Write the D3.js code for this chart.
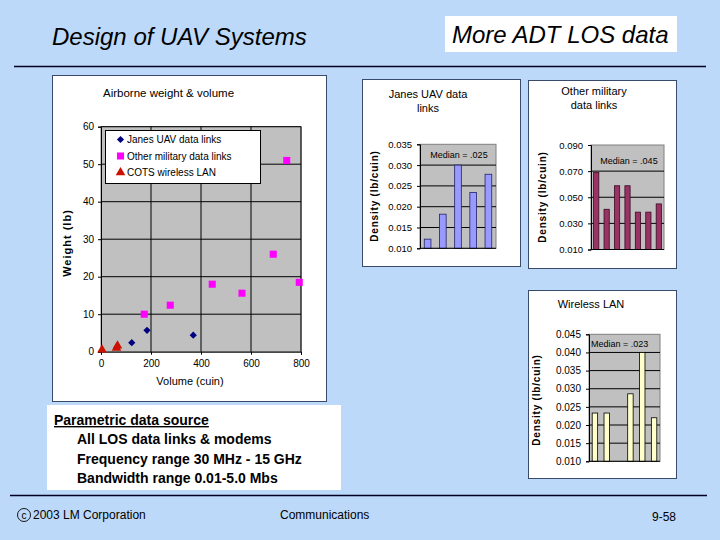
<!DOCTYPE html>
<html><head><meta charset="utf-8">
<script src="https://cdn.jsdelivr.net/npm/d3@7"></script>
<style>
html,body{margin:0;padding:0;background:#bdd9f9;}
svg{display:block;font-family:"Liberation Sans",Arial,sans-serif;}
</style></head>
<body>
<svg id="c" width="720" height="540"></svg>
<script>
// ---------- data ----------
const slideTitle = "Design of UAV Systems";
const slideSubtitle = "More ADT LOS data";
const scatterTitle = "Airborne weight & volume";
const volumeTicks = [0, 200, 400, 600, 800];
const weightTicks = [0, 10, 20, 30, 40, 50, 60];
const janesVolume = [123, 184, 369];
const janesWeight = [2.4, 5.7, 4.4];
const otherVolume = [173, 277, 445, 564, 689, 743, 793];
const otherWeight = [10, 12.4, 18, 15.6, 26, 51, 18.5];
const cotsVolume = [4, 62, 66];
const cotsWeight = [0.5, 1.0, 1.6];
const legendNames = ["Janes UAV data links", "Other military data links", "COTS wireless LAN"];

const janesDensity = [0.0122, 0.0182, 0.030, 0.0234, 0.0278];
const janesTicks = [0.010, 0.015, 0.020, 0.025, 0.030, 0.035];
const otherDensity = [0.0689, 0.0408, 0.0588, 0.0588, 0.0386, 0.0386, 0.0449];
const otherTicks = [0.010, 0.030, 0.050, 0.070, 0.090];
const wlanDensity = [0.0233, 0.0233, null, 0.0286, 0.040, 0.022];
const wlanTicks = [0.010, 0.015, 0.020, 0.025, 0.030, 0.035, 0.040, 0.045];

const sourceLines = ["All LOS data links & modems", "Frequency range 30 MHz - 15 GHz", "Bandwidth range 0.01-5.0 Mbs"];

const svg = d3.select("#c");

// ---------- slide chrome ----------
svg.append("rect").attr("width",720).attr("height",540).attr("fill","#bdd9f9");
svg.append("text").attr("x",52).attr("y",45).attr("font-size",24).attr("font-style","italic")
  .attr("fill","#000").text(slideTitle);
svg.append("rect").attr("x",445).attr("y",16).attr("width",232).attr("height",36).attr("fill","#fff");
svg.append("text").attr("x",452).attr("y",43).attr("font-size",24).attr("font-style","italic")
  .attr("fill","#000").text(slideSubtitle);
svg.append("line").attr("x1",14).attr("x2",706).attr("y1",66.5).attr("y2",66.5).attr("stroke","#000022").attr("stroke-width",1.5);
svg.append("line").attr("x1",10).attr("x2",707).attr("y1",495.5).attr("y2",495.5).attr("stroke","#000022").attr("stroke-width",1.5);

// footer
svg.append("circle").attr("cx",24).attr("cy",515).attr("r",6.5).attr("fill","none").attr("stroke","#000").attr("stroke-width",0.9);
svg.append("text").attr("x",24).attr("y",518.5).attr("text-anchor","middle").attr("font-size",10).text("c");
svg.append("text").attr("x",33).attr("y",519).attr("font-size",12).text("2003 LM Corporation");
svg.append("text").attr("x",280).attr("y",519).attr("font-size",12).text("Communications");
svg.append("text").attr("x",652).attr("y",521).attr("font-size",12).text("9-58");

// ---------- scatter panel ----------
svg.append("rect").attr("x",52.5).attr("y",75.5).attr("width",274).attr("height",326)
  .attr("fill","#fff").attr("stroke","#3a4a6a").attr("stroke-width",1);

const sx = d3.scaleLinear().domain([0,800]).range([101,301]);
const sy = d3.scaleLinear().domain([0,60]).range([351.7,126.7]);
const sg = svg.append("g");
sg.append("rect").attr("x",sx(0)).attr("y",sy(60)).attr("width",sx(800)-sx(0)).attr("height",sy(0)-sy(60))
  .attr("fill","#c0c0c0").attr("stroke","#808080");
sg.selectAll("line.hg").data(weightTicks.filter(d=>d>0)).join("line")
  .attr("x1",sx(0)).attr("x2",sx(800)).attr("y1",d=>sy(d)).attr("y2",d=>sy(d)).attr("stroke","#000").attr("stroke-width",1);
sg.selectAll("line.vg").data(volumeTicks.filter(d=>d>0)).join("line")
  .attr("y1",sy(0)).attr("y2",sy(60)).attr("x1",d=>sx(d)).attr("x2",d=>sx(d)).attr("stroke","#000").attr("stroke-width",1);

const yAx = sg.append("g").attr("transform",`translate(${sx(0)},0)`)
  .call(d3.axisLeft(sy).tickValues(weightTicks).tickSize(3).tickPadding(4).tickFormat(d3.format("d")));
const xAx = sg.append("g").attr("transform",`translate(0,${sy(0)})`)
  .call(d3.axisBottom(sx).tickValues(volumeTicks).tickSize(3).tickPadding(5).tickFormat(d3.format("d")));
[yAx,xAx].forEach(a=>{a.select(".domain").attr("stroke","#000");a.selectAll("line").attr("stroke","#000");
  a.selectAll("text").attr("font-size",10).attr("font-family","Liberation Sans, Arial, sans-serif").attr("fill","#000");});

sg.append("text").attr("x",103).attr("y",97).attr("font-size",11.5).text(scatterTitle);
sg.append("text").attr("x",190).attr("y",385).attr("text-anchor","middle").attr("font-size",11).text("Volume (cuin)");
sg.append("text").attr("transform","translate(71,243) rotate(-90)").attr("text-anchor","middle")
  .attr("font-size",11).attr("font-weight","bold").attr("letter-spacing",1).text("Weight (lb)");

const diamond = d3.symbol().type(d3.symbolSquare).size(26);
const square = d3.symbol().type(d3.symbolSquare).size(50);
const tri = d3.symbol().type(d3.symbolTriangle).size(40);

sg.selectAll("path.oth").data(otherVolume.map((v,i)=>[v,otherWeight[i]])).join("path")
  .attr("d",square).attr("transform",d=>`translate(${sx(d[0])},${sy(d[1])})`).attr("fill","#ff00ff");
sg.selectAll("path.jan").data(janesVolume.map((v,i)=>[v,janesWeight[i]])).join("path")
  .attr("d",diamond).attr("transform",d=>`translate(${sx(d[0])},${sy(d[1])}) rotate(45)`).attr("fill","#000080");
sg.selectAll("path.cot").data(cotsVolume.map((v,i)=>[v,cotsWeight[i]])).join("path")
  .attr("d",tri).attr("transform",d=>`translate(${sx(d[0])},${sy(d[1])})`).attr("fill","#cc1100");

// legend
const lg = sg.append("g");
lg.append("rect").attr("x",105.5).attr("y",130.5).attr("width",155).attr("height",53).attr("fill","#fff").attr("stroke","#000");
const legSyms = [[diamond,"#000080",45],[square,"#ff00ff",0],[tri,"#cc1100",0]];
legendNames.forEach((n,i)=>{
  const yy = 139.5 + i*16.5;
  lg.append("path").attr("d",legSyms[i][0]).attr("transform",`translate(120.5,${yy}) rotate(${legSyms[i][2]})`).attr("fill",legSyms[i][1]);
  lg.append("text").attr("x",127).attr("y",yy+3.5).attr("font-size",10).text(n);
});

// ---------- bar chart helper ----------
function barChart(o){
  const g = svg.append("g");
  g.append("rect").attr("x",o.px).attr("y",o.py).attr("width",o.pw).attr("height",o.ph)
    .attr("fill","#fff").attr("stroke","#3a4a6a").attr("stroke-width",1);
  const x = d3.scaleBand().domain(o.values.map((d,i)=>i)).range([o.x0,o.x1])
    .paddingInner(o.pad).paddingOuter(o.pad/2);
  const y = d3.scaleLinear().domain([o.ticks[0], o.ticks[o.ticks.length-1]]).range([o.y0,o.y1]);
  g.append("rect").attr("x",o.x0).attr("y",o.y1).attr("width",o.x1-o.x0).attr("height",o.y0-o.y1)
    .attr("fill","#c0c0c0").attr("stroke","#808080");
  g.selectAll("line.grid").data(o.ticks.slice(1,-1)).join("line")
    .attr("x1",o.x0).attr("x2",o.x1).attr("y1",d=>y(d)).attr("y2",d=>y(d)).attr("stroke","#000");
  g.selectAll("rect.bar").data(o.values.map((v,i)=>({v,i})).filter(d=>d.v!=null)).join("rect")
    .attr("x",d=>x(d.i)).attr("width",x.bandwidth()).attr("y",d=>y(d.v)).attr("height",d=>y(o.ticks[0])-y(d.v))
    .attr("fill",o.fill).attr("stroke",o.stroke).attr("stroke-width",0.8);
  const ax = g.append("g").attr("transform",`translate(${o.x0},0)`)
    .call(d3.axisLeft(y).tickValues(o.ticks).tickSize(3).tickPadding(5).tickFormat(d3.format(".3f")));
  ax.select(".domain").attr("stroke","#000");
  ax.selectAll("line").attr("stroke","#000");
  ax.selectAll("text").attr("font-size",o.tickFont||9.5).attr("font-family","Liberation Sans, Arial, sans-serif").attr("fill","#000");
  g.append("line").attr("x1",o.x0).attr("x2",o.x1).attr("y1",o.y0).attr("y2",o.y0).attr("stroke","#000");
  o.title.forEach((t,i)=>g.append("text").attr("x",o.tx).attr("y",o.ty+i*14).attr("text-anchor","middle")
    .attr("font-size",11).text(t));
  g.append("text").attr("x",o.mx).attr("y",o.my).attr("text-anchor",o.manchor||"middle").attr("font-size",9).text(o.median);
  g.append("text").attr("transform",`translate(${o.ax},${o.ay}) rotate(-90)`).attr("text-anchor","middle")
    .attr("font-size",10).attr("font-weight","bold").attr("letter-spacing",0.8).text("Density (lb/cuin)");
}

barChart({px:362.5,py:79.5,pw:158,ph:187, x0:420,x1:496,y0:248.3,y1:144.3, values:janesDensity, ticks:janesTicks,
  pad:0.56, fill:"#9999ff", stroke:"#222266", title:["Janes UAV data","links"], tx:428, ty:98,
  median:"Median = .025", mx:459, my:158, ax:378, ay:196});
barChart({px:528.5,py:80.5,pw:148,ph:188, x0:591,x1:664,y0:249.5,y1:145, values:otherDensity, ticks:otherTicks,
  pad:0.5, fill:"#993366", stroke:"#3a0a20", title:["Other military","data links"], tx:594, ty:95,
  median:"Median  = .045", mx:629, my:164, ax:546, ay:197});
barChart({px:528.5,py:290.5,pw:148,ph:188, x0:589,x1:660,y0:461.3,y1:334.3, values:wlanDensity, ticks:wlanTicks,
  pad:0.54, fill:"#ffffcc", stroke:"#000", title:["Wireless LAN"], tx:591, ty:308, tickFont:10,
  median:"Median = .023", mx:591, my:347, manchor:"start", ax:540, ay:400});

// ---------- source text box ----------
svg.append("rect").attr("x",47).attr("y",405).attr("width",294).attr("height",85).attr("fill","#fff");
svg.append("text").attr("x",54).attr("y",425).attr("font-size",14).attr("font-weight","bold")
  .attr("text-decoration","underline").text("Parametric data source");
sourceLines.forEach((t,i)=>svg.append("text").attr("x",77).attr("y",444+i*19.5).attr("font-size",14)
  .attr("font-weight","bold").text(t));
</script>
</body></html>
